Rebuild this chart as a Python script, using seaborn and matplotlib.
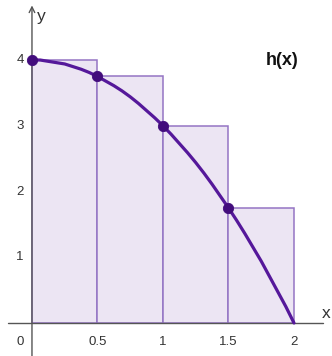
import numpy as np
import pandas as pd
import matplotlib
matplotlib.use("Agg")
import matplotlib.pyplot as plt
import seaborn as sns

# rectangle left edges and heights (left Riemann sum)
rect_left = [0, 0.5, 1, 1.5]
rect_height = [4, 3.75, 3, 1.75]
rect_width = 0.5

# curve h(x), values
curve_x = [0, 0.0625, 0.125, 0.1875, 0.25, 0.3125, 0.375, 0.4375, 0.5,
           0.5625, 0.625, 0.6875, 0.75, 0.8125, 0.875, 0.9375, 1.0,
           1.0625, 1.125, 1.1875, 1.25, 1.3125, 1.375, 1.4375, 1.5,
           1.5625, 1.625, 1.6875, 1.75, 1.8125, 1.875, 1.9375, 2.0]
curve_y = [4.0, 4.0, 3.98, 3.96, 3.94, 3.9, 3.86, 3.81, 3.75,
           3.68, 3.61, 3.53, 3.44, 3.34, 3.23, 3.12, 3.0,
           2.87, 2.73, 2.59, 2.44, 2.28, 2.11, 1.93, 1.75,
           1.56, 1.36, 1.15, 0.94, 0.71, 0.48, 0.25, 0.0]

# tick labels
xticks = [0.5, 1, 1.5, 2]
xtick_labels = ["0.5", "1", "1.5", "2"]
yticks = [1, 2, 3, 4]
ytick_labels = ["1", "2", "3", "4"]

sns.set_style("white")
plt.rcParams['font.family'] = ['Liberation Sans', 'DejaVu Sans']

fig = plt.figure(figsize=(3.32, 3.56), dpi=100)
ax = fig.add_axes([0, 0, 1, 1])
ax.set_xlim(-0.244, 2.29)
ax.set_ylim(-0.502, 4.913)
ax.axis("off")

fill_col = "#ece5f3"
edge_col = "#9474c4"
line_col = "#55189a"
dot_col = "#420c7c"

ax.bar(rect_left, rect_height, width=rect_width, align="edge",
       color=fill_col, edgecolor=edge_col, linewidth=1.1, zorder=1)

# axes
ax.plot([-0.183, 2.22], [0, 0], color="#555555", lw=1.0, zorder=2)
ax.annotate("", xy=(0, 4.83), xytext=(0, -0.52),
            arrowprops=dict(arrowstyle="->", color="#555555", lw=1.0,
                            mutation_scale=10, shrinkA=0, shrinkB=0),
            zorder=2)

df_curve = pd.DataFrame({"x": curve_x, "y": curve_y})
sns.lineplot(data=df_curve, x="x", y="y", ax=ax, color=line_col,
             linewidth=2.3, zorder=3, legend=False, sort=True)

df_pts = pd.DataFrame({"x": rect_left, "y": rect_height})
sns.scatterplot(data=df_pts, x="x", y="y", ax=ax, color=dot_col,
                s=55, edgecolor=dot_col, zorder=4, legend=False)

tick_col = "#333333"
for t, lab in zip(xticks, xtick_labels):
    ax.text(t, -0.29, lab, ha="center", va="center", fontsize=9.5, color=tick_col)
ax.text(-0.09, -0.29, "0", ha="center", va="center", fontsize=9.5, color=tick_col)
for t, lab in zip(yticks, ytick_labels):
    ax.text(-0.09, t, lab, ha="center", va="center", fontsize=9.5, color=tick_col)

ax.text(0.07, 4.66, "y", ha="center", va="center", fontsize=12.5, color=tick_col)
ax.text(2.245, 0.15, "x", ha="center", va="center", fontsize=12.5, color=tick_col)
ax.text(1.91, 4.0, "h(x)", ha="center", va="center", fontsize=13,
        fontweight="bold", color="#111111")

fig.savefig("out.png", dpi=100)
